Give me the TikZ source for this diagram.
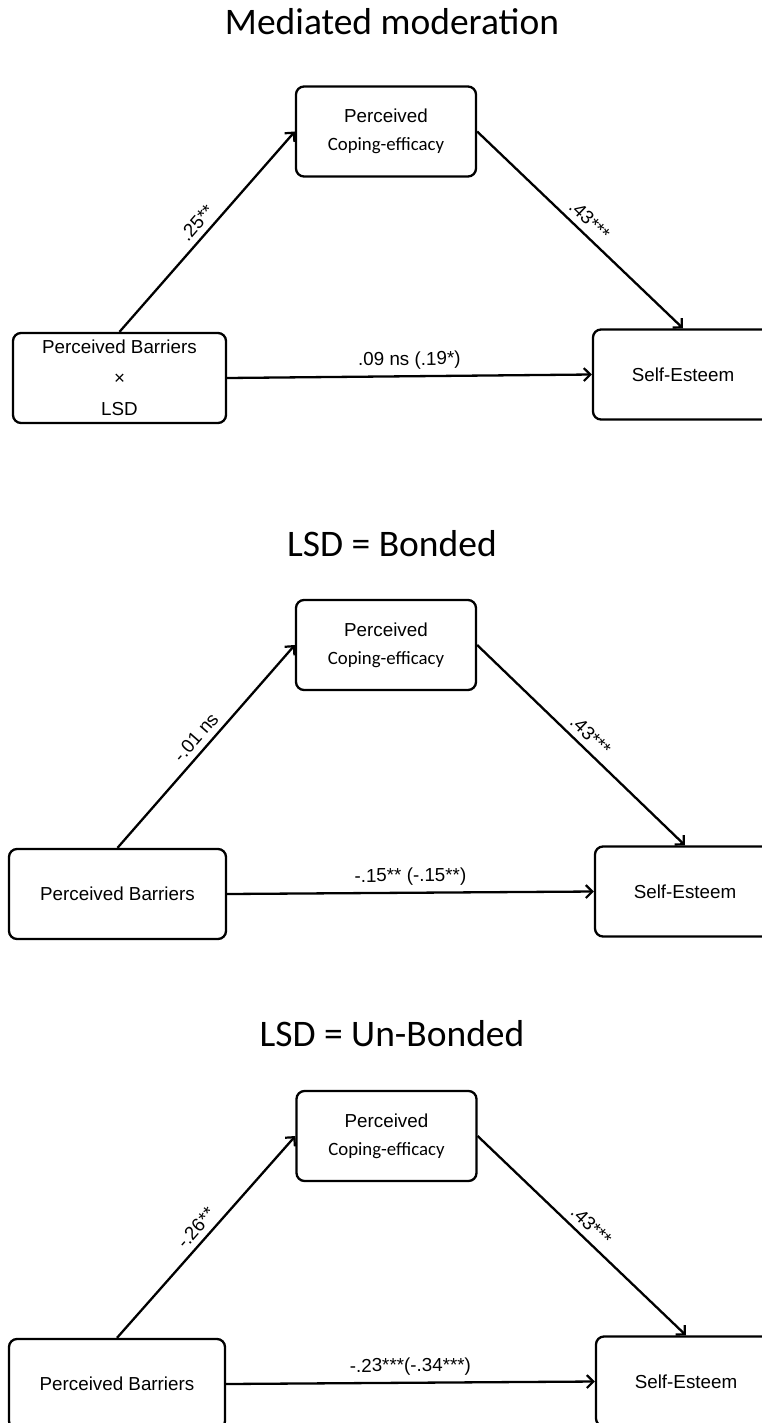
\documentclass[tikz,border=0pt]{standalone}
\usepackage{fontspec}
\setmainfont{Liberation Sans}
\newfontfamily\calib{Carlito}
\usetikzlibrary{arrows.meta}
\tikzset{
  box/.style={draw, line width=2.3pt, rounded corners=8pt, minimum width=#1, minimum height=90pt,
    inner sep=0pt, align=center, font=\fontsize{18.8}{28}\selectfont},
  box/.default=180pt,
  arr/.style={line width=2.3pt, -{Straight Barb[length=6.5pt,width=13pt,line width=2.2pt]}},
  lab/.style={font=\fontsize{18.8}{22}\selectfont, midway, sloped, above=6pt, inner sep=0pt},
  ttl/.style={font=\calib\fontsize{37.5}{42}\selectfont, anchor=base, inner sep=0pt}
}
\begin{document}
\begin{tikzpicture}[x=1pt,y=-1pt]
\useasboundingbox (0,0) rectangle (762,1423);
\clip (0,0) rectangle (762,1423);

% Panel 1
\node[ttl] (T1) at (392,35) {Mediated moderation};
\node[box] (M1) at (386,131.5) {Perceived\\{\calib Coping-efficacy}};
\node[box=213pt, font=\fontsize{18.8}{31}\selectfont] (X1) at (119.5,378) {Perceived Barriers\\×\\LSD};
\node[box] (Y1) at (683,374.5) {Self-Esteem};
\draw[arr] (X1.north) -- node[lab] (L1a) {.25**} (M1.west);
\draw[arr] (M1.east) -- node[lab] (L1b) {.43***} (Y1.north);
\draw[arr] (X1.east) -- node[lab] (L1c) {.09 ns (.19*)} (Y1.west);

% Panel 2
\node[ttl] (T2) at (392,556) {LSD = Bonded};
\node[box] (M2) at (386,645) {Perceived\\{\calib Coping-efficacy}};
\node[box=217pt] (X2) at (117.5,894) {Perceived Barriers};
\node[box] (Y2) at (685,891.5) {Self-Esteem};
\draw[arr] (X2.north) -- node[lab] (L2a) {-.01 ns} (M2.west);
\draw[arr] (M2.east) -- node[lab] (L2b) {.43***} (Y2.north);
\draw[arr] (X2.east) -- node[lab] (L2c) {-.15** (-.15**)} (Y2.west);

% Panel 3
\node[ttl] (T3) at (392,1046) {LSD = Un-Bonded};
\node[box] (M3) at (386.5,1136) {Perceived\\{\calib Coping-efficacy}};
\node[box=216pt] (X3) at (117,1384) {Perceived Barriers};
\node[box] (Y3) at (686,1381.5) {Self-Esteem};
\draw[arr] (X3.north) -- node[lab] (L3a) {-.26**} (M3.west);
\draw[arr] (M3.east) -- node[lab] (L3b) {.43***} (Y3.north);
\draw[arr] (X3.east) -- node[lab] (L3c) {-.23***(-.34***)} (Y3.west);
\end{tikzpicture}
\end{document}
